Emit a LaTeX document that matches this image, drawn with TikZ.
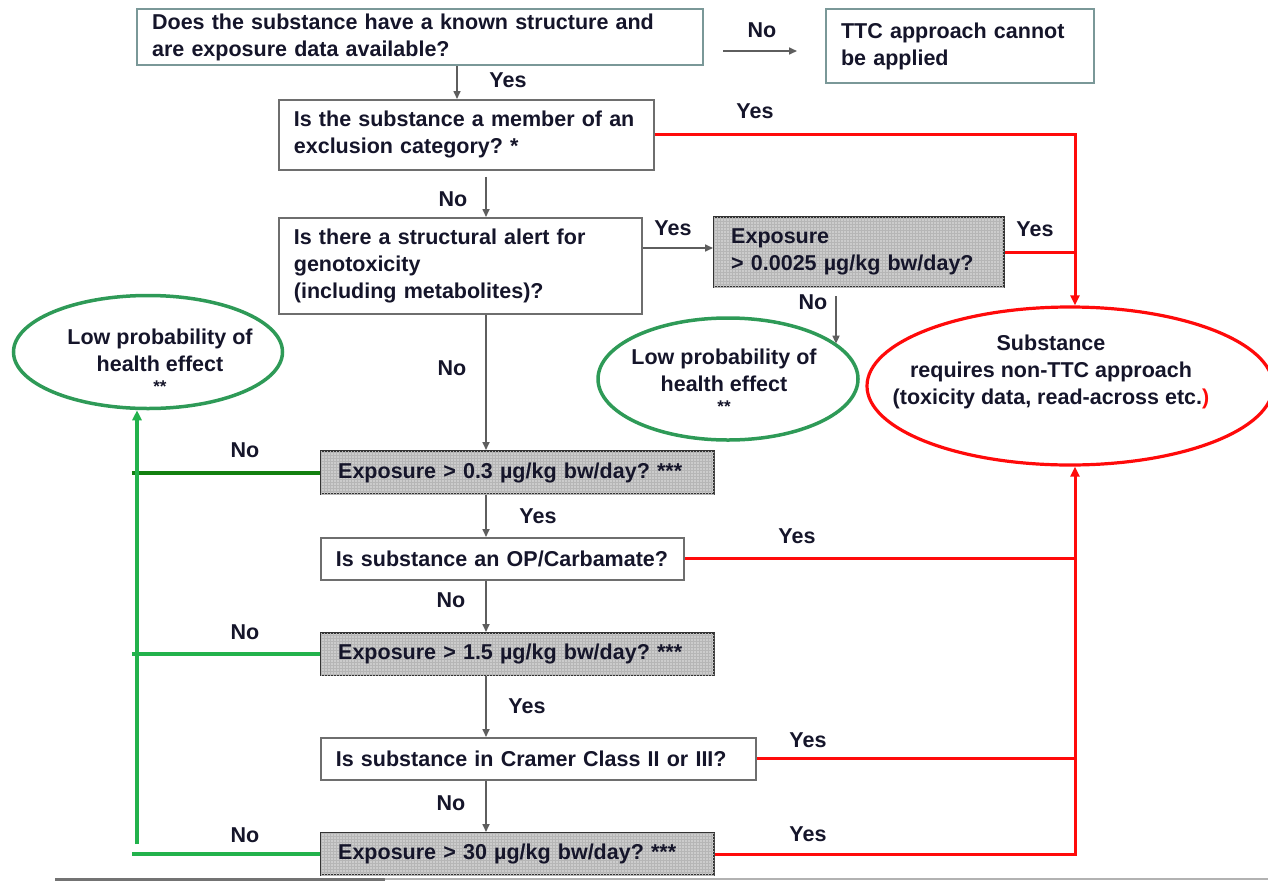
\documentclass[tikz,border=0pt]{standalone}
\usepackage{fontspec}
\setmainfont{Liberation Sans}
\usetikzlibrary{arrows.meta,shapes.geometric,patterns,calc}
\definecolor{txt}{HTML}{15152A}
\definecolor{tealgray}{HTML}{7A9898}
\definecolor{boxline}{HTML}{6E6E6E}
\definecolor{expfill}{HTML}{CCCCCC}
\definecolor{expgrid}{HTML}{B6B6B6}
\definecolor{arrgray}{HTML}{5E5E5E}
\definecolor{dgreen}{HTML}{12800F}
\definecolor{lgreen}{HTML}{22B24C}
\definecolor{egreen}{HTML}{2E9A57}
\definecolor{rline}{HTML}{FF0A0A}
\newcommand\diagfont{\frenchspacing\fontsize{21.5}{27}\selectfont\bfseries}
\newcommand\starfont{\fontsize{17}{18}\selectfont\bfseries}
\begin{document}
\begin{tikzpicture}[x=1pt,y=-1pt,
  every node/.style={text=txt, font=\diagfont},
  qbox/.style={draw=boxline, line width=1.8, fill=white, rectangle, anchor=north west,
    align=left, inner xsep=15, inner ysep=0},
  tbox/.style={qbox, draw=tealgray, line width=2.2},
  expbox/.style={qbox, draw=black!80, line width=2.4, fill=expfill,
    postaction={pattern=grid, pattern color=expgrid}, inner xsep=17},
  garrow/.style={draw=arrgray, line width=1.6, -{Triangle[length=8,width=7]}},
  redl/.style={draw=rline, line width=3},
  redarrow/.style={redl, -{Triangle[length=10,width=9]}},
  dgl/.style={draw=dgreen, line width=4},
  lgl/.style={draw=lgreen, line width=4},
  lgarrow/.style={lgl, line width=3.2, -{Triangle[length=10,width=9]}},
  gell/.style={draw=egreen, line width=3.5, ellipse, inner sep=0},
  rell/.style={draw=rline, line width=3.2, ellipse, inner sep=0},
  lab/.style={inner sep=0}
]
\useasboundingbox (0,0) rectangle (1268,881);

% boxes
\node[tbox, minimum width=566, minimum height=56, text width=536] (q1) at (136,8)
  {Does the substance have a known structure and\\are exposure data available?};
\node[tbox, minimum width=268, minimum height=74, text width=238] (ttc) at (825,8)
  {TTC approach cannot\\be applied};
\node[qbox, minimum width=375, minimum height=70, text width=345] (q2) at (278,99)
  {Is the substance a member of an\\exclusion category? *};
\node[qbox, minimum width=363, minimum height=96, text width=333] (q3) at (278,217)
  {Is there a structural alert for\\genotoxicity\\(including metabolites)?};
\node[expbox, minimum width=290, minimum height=70, text width=256] (e1) at (713,216)
  {Exposure\\> 0.0025 µg/kg bw/day?};
\node[expbox, minimum width=393, minimum height=43, text width=359] (e2) at (320,450)
  {Exposure > 0.3 µg/kg bw/day? ***};
\node[qbox, minimum width=363, minimum height=42, text width=333] (q4) at (320,537)
  {Is substance an OP/Carbamate?};
\node[expbox, minimum width=393, minimum height=42, text width=359] (e3) at (320,632)
  {Exposure > 1.5 µg/kg bw/day? ***};
\node[qbox, minimum width=435, minimum height=42, text width=405] (q5) at (320,737)
  {Is substance in Cramer Class II or III?};
\node[expbox, minimum width=393, minimum height=42, text width=359] (e4) at (320,832)
  {Exposure > 30 µg/kg bw/day? ***};

% ellipses
\node[gell, minimum width=269, minimum height=113] (ell1) at (148,352) {};
\node[align=center, inner sep=0] (ell1t) at (160,361)
  {Low probability of\\health effect\\[-6pt]{\starfont **}};
\node[gell, minimum width=260, minimum height=122] (ell2) at (728,379) {};
\node[align=center, inner sep=0] (ell2t) at (724,381)
  {Low probability of\\health effect\\[-6pt]{\starfont **}};
\node[rell, minimum width=406, minimum height=158] (ellr) at (1070,386) {};
\node[align=center, inner sep=0] (ellrt) at (1051,372)
  {Substance\\requires non-TTC approach\\(toxicity data, read-across etc.\textcolor{rline}{)}};

% helper coordinates
\coordinate (xa) at (457,0);
\coordinate (xb) at (486,0);
\coordinate (xr) at (1075,0);
\coordinate (xg) at (132,0);
\coordinate (xv) at (137,0);
\coordinate (xn) at (836,0);
\coordinate (y248) at (0,248);
\coordinate (n1s) at (723,51);
\coordinate (n1e) at (797,51);
\coordinate (gv) at (137,844);

% grey arrows
\draw[garrow] (q1.south -| xa) -- (q2.north -| xa);
\draw[garrow] (n1s) -- (n1e);
\draw[garrow, shorten <=6] (q2.south -| xb) -- (q3.north -| xb);
\draw[garrow] (q3.east |- y248) -- (e1.west |- y248);
\draw[garrow, shorten <=8] (e1.south -| xn) -- (xn |- ell2.18);
\draw[garrow] (q3.south -| xb) -- (e2.north -| xb);
\draw[garrow] (e2.south -| xb) -- (q4.north -| xb);
\draw[garrow] (q4.south -| xb) -- (e3.north -| xb);
\draw[garrow] (e3.south -| xb) -- (q5.north -| xb);
\draw[garrow] (q5.south -| xb) -- (e4.north -| xb);

% red connectors
\draw[redarrow] (q2.east) -- (xr |- q2.east) -- (xr |- ellr.north);
\draw[redl] (e1.east) -- (xr |- e1.east);
\draw[redl] (q4.east) -- (xr |- q4.east);
\draw[redl] (q5.east) -- (xr |- q5.east);
\draw[redarrow] (e4.east) -- (xr |- e4.east) -- (xr |- ellr.south);

% green connectors
\draw[dgl] (e2.west) -- (xg |- e2.west);
\draw[lgl] (e3.west) -- (xg |- e3.west);
\draw[lgl] (e4.west) -- (xg |- e4.west);
\draw[lgarrow] (gv) -- (xv |- ell1.south);

% labels
\node[lab] (l1) at (508,80) {Yes};
\node[lab] (l2) at (762,30) {No};
\node[lab] (l3) at (755,111) {Yes};
\node[lab] (l4) at (453,199) {No};
\node[lab] (l5) at (673,228) {Yes};
\node[lab] (l6) at (1035,229) {Yes};
\node[lab] (l7) at (813,302) {No};
\node[lab] (l8) at (452,368) {No};
\node[lab] (l9) at (245,450) {No};
\node[lab] (l10) at (538,516) {Yes};
\node[lab] (l11) at (797,536) {Yes};
\node[lab] (l12) at (451,600) {No};
\node[lab] (l13) at (245,632) {No};
\node[lab] (l14) at (527,706) {Yes};
\node[lab] (l15) at (808,740) {Yes};
\node[lab] (l16) at (451,803) {No};
\node[lab] (l17) at (245,835) {No};
\node[lab] (l18) at (808,834) {Yes};

% bottom edge line
\draw[draw=black!55, line width=3] (55,879) -- (385,879);
\draw[draw=black!30, line width=2] (385,879) -- (1268,879);
\end{tikzpicture}
\end{document}
